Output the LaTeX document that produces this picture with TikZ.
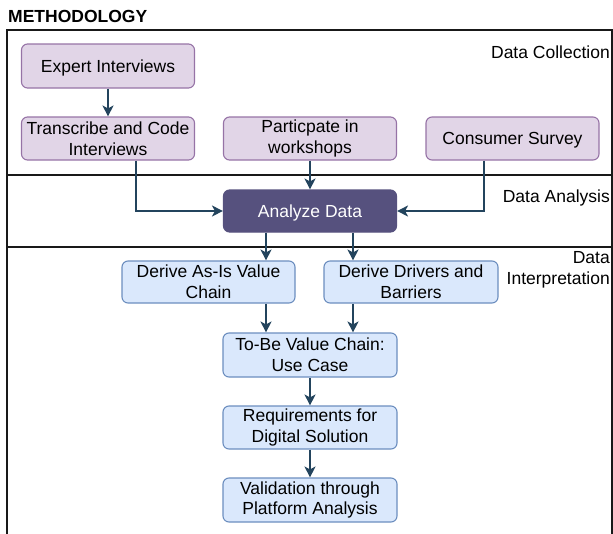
\documentclass[tikz,border=0pt]{standalone}
\usepackage{fontspec}
\setmainfont{Liberation Sans}
\usetikzlibrary{arrows.meta,calc}
\definecolor{pfill}{HTML}{E1D5E7}
\definecolor{pline}{HTML}{9673A6}
\definecolor{dfill}{HTML}{56517E}
\definecolor{bfill}{HTML}{DAE8FC}
\definecolor{bline}{HTML}{6C8EBF}
\definecolor{arrc}{HTML}{23445D}
\tikzset{
  base/.style={rounded corners=6pt, line width=1.1pt, minimum width=173pt, minimum height=43pt,
    inner sep=0pt, align=center, font=\fontsize{17.5}{20.7}\selectfont},
  oneline/.style={text height=16.5pt, text depth=3.7pt},
  purplebox/.style={base, draw=pline, fill=pfill},
  darkbox/.style={base, draw=dfill, fill=dfill, text=white},
  bluebox/.style={base, draw=bline, fill=bfill},
  arr/.style={draw=arrc, line width=1.5pt, -{Stealth[length=11pt,width=11pt,inset=3pt]}},
  lane/.style={line width=1.2pt, draw=black!90},
  lanelabel/.style={font=\fontsize{17.5}{20.7}\selectfont, inner sep=0pt, align=right}
}
\begin{document}
\begin{tikzpicture}[x=1pt,y=-1pt]
\useasboundingbox (0,0) rectangle (613,533);
\begin{scope}
\clip (0,0) rectangle (613,533);
\draw[lane] (7,545) -- (7,30) -- (612,30) -- (612,545);
\draw[lane] (7,175) -- (612,175);
\draw[lane] (7,247) -- (612,247);
\end{scope}
\node[anchor=west, inner sep=0pt, font=\fontsize{17.5}{20.7}\selectfont\bfseries] (title) at (8,16) {METHODOLOGY};
\node[lanelabel, anchor=east] (l1) at (610,52.5) {Data Collection};
\node[lanelabel, anchor=east] (l2) at (610,197.5) {Data Analysis};
\node[lanelabel, anchor=east] (l3) at (610,269.5) {Data\\Interpretation};

\node[purplebox, oneline, minimum height=44pt] (ei) at (108,66) {Expert Interviews};
\node[purplebox] (tc) at (108,138.5) {Transcribe and Code\\Interviews};
\node[purplebox] (pw) at (310,138.5) {Particpate in\\workshops};
\node[purplebox, oneline] (cs) at (512.5,138.5) {Consumer Survey};
\node[darkbox, oneline, minimum height=42pt] (ad) at (310,211) {Analyze Data};
\node[bluebox, minimum height=42pt] (asis) at (208.5,282) {Derive As-Is Value\\Chain};
\node[bluebox, minimum height=42pt, minimum width=174pt] (dd) at (411,282) {Derive Drivers and\\Barriers};
\node[bluebox, minimum height=44pt, minimum width=174pt] (tobe) at (310,355) {To-Be Value Chain:\\Use Case};
\node[bluebox, minimum width=174pt] (req) at (310,427.5) {Requirements for\\Digital Solution};
\node[bluebox, minimum height=44pt, minimum width=174pt] (val) at (310,500) {Validation through\\Platform Analysis};

\draw[arr] (ei) -- (tc);
\path ($(tc.south)+(28,0)$) coordinate (tcs);
\draw[arr] (tcs) |- (ad.west);
\draw[arr] (pw) -- (ad);
\path ($(cs.south)+(-28.5,0)$) coordinate (css);
\draw[arr] (css) |- (ad.east);
\path ($(ad.south)+(-44,0)$) coordinate (ad1);
\path ($(ad.south)+(43,0)$) coordinate (ad2);
\draw[arr] (ad1) -- (ad1 |- asis.north);
\draw[arr] (ad2) -- (ad2 |- dd.north);
\path ($(tobe.north)+(-44,0)$) coordinate (tb1);
\path ($(tobe.north)+(43,0)$) coordinate (tb2);
\draw[arr] (tb1 |- asis.south) -- (tb1);
\draw[arr] (tb2 |- dd.south) -- (tb2);
\draw[arr] (tobe) -- (req);
\draw[arr] (req) -- (val);
\end{tikzpicture}
\end{document}
